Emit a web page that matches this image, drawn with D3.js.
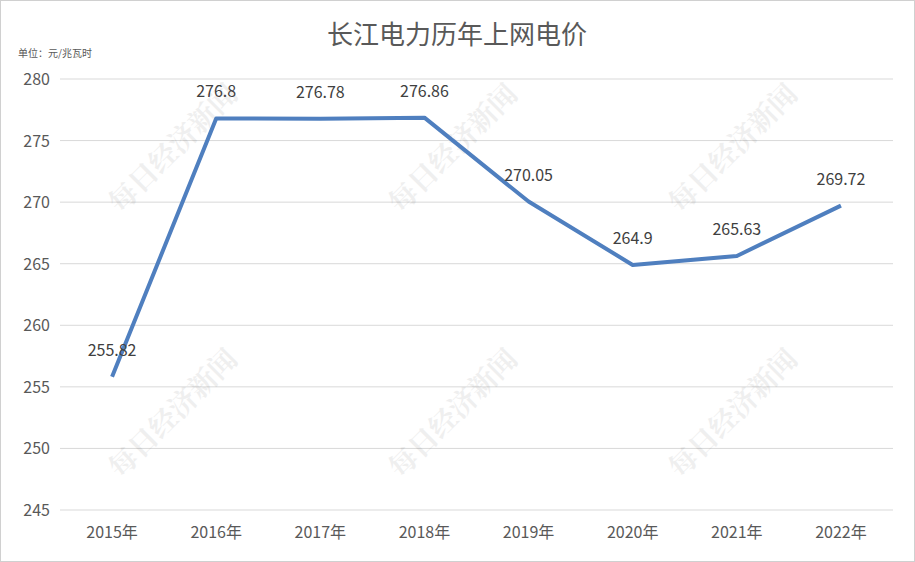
<!DOCTYPE html>
<html><head><meta charset="utf-8">
<script src="https://cdn.jsdelivr.net/npm/d3@7"></script>
<style>body{margin:0;background:#fff}</style>
</head><body>
<svg id="c" width="915" height="562"></svg>
<script>
var years = ["2015年","2016年","2017年","2018年","2019年","2020年","2021年","2022年"];
var prices = [255.82, 276.8, 276.78, 276.86, 270.05, 264.9, 265.63, 269.72];
var labels = ["255.82","276.8","276.78","276.86","270.05","264.9","265.63","269.72"];
var yTicks = [245,250,255,260,265,270,275,280];

var svg = d3.select("#c");
var font = "'Microsoft YaHei','Noto Sans CJK SC',sans-serif";
svg.append("rect").attr("x",0.5).attr("y",0.5).attr("width",914).attr("height",561)
	.attr("fill","#fff").attr("stroke","#d0d0d0");

var x = d3.scaleBand().domain(years).range([60, 893]);
var y = d3.scaleLinear().domain([245, 280]).range([510, 79]);

// gridlines
svg.selectAll("line.grid").data(yTicks).enter().append("line")
	.attr("x1",60).attr("x2",893)
	.attr("y1",function(d){ return y(d); }).attr("y2",function(d){ return y(d); })
	.attr("stroke","#d9d9d9").attr("stroke-width",1);

svg.selectAll("text.yt").data(yTicks).enter().append("text")
	.attr("x",50).attr("y",function(d){ return y(d)+6; })
	.attr("text-anchor","end").attr("font-size",16).attr("fill","#595959")
	.attr("font-family",font).text(function(d){ return d; });

svg.selectAll("text.xt").data(years).enter().append("text")
	.attr("x",function(d){ return x(d)+x.bandwidth()/2; }).attr("y",538)
	.attr("text-anchor","middle").attr("font-size",16).attr("fill","#595959")
	.attr("font-family",font).text(function(d){ return d; });

// watermark
var wm = [[180,155],[460,155],[740,155],[180,420],[460,420],[740,420]];
svg.selectAll("text.wm").data(wm).enter().append("text")
	.attr("transform",function(d){ return "translate("+d[0]+","+d[1]+") rotate(-45)"; })
	.attr("text-anchor","middle").attr("font-size",28).attr("font-weight","bold")
	.attr("fill","#000").attr("opacity",0.06).attr("font-family","'Noto Serif CJK SC',serif").text("每日经济新闻");

var line = d3.line()
	.x(function(d,i){ return x(years[i])+x.bandwidth()/2; })
	.y(function(d){ return y(d); });
svg.append("path").datum(prices).attr("d",line)
	.attr("fill","none").attr("stroke","#4f7fbf").attr("stroke-width",4).attr("stroke-linejoin","round");

svg.selectAll("text.lb").data(prices).enter().append("text")
	.attr("x",function(d,i){ return x(years[i])+x.bandwidth()/2; })
	.attr("y",function(d){ return y(d)-21; })
	.attr("text-anchor","middle").attr("font-size",16).attr("fill","#404040")
	.attr("font-family",font).text(function(d,i){ return labels[i]; });

svg.append("text").attr("x",457).attr("y",44).attr("text-anchor","middle")
	.attr("font-size",26).attr("fill","#595959").attr("font-family",font).text("长江电力历年上网电价");
svg.append("text").attr("x",18).attr("y",57).attr("font-size",10).attr("fill","#595959")
	.attr("font-family",font).text("单位：元/兆瓦时");
</script>
</body></html>
